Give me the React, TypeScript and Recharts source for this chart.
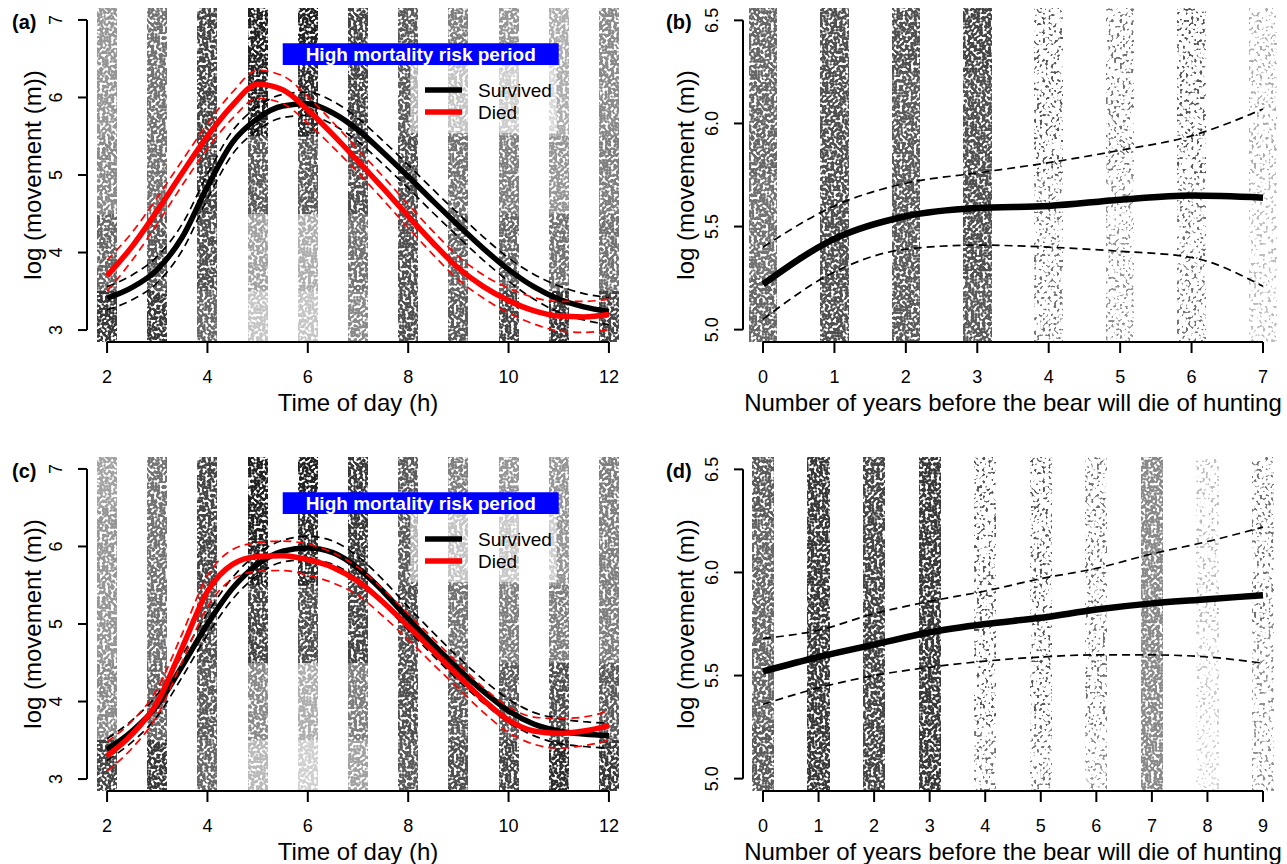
import React from 'react';
import { ComposedChart, Line, XAxis, YAxis, ReferenceArea, ReferenceLine } from 'recharts';

const FONT = '"Liberation Sans", Arial, Helvetica, sans-serif';

// ---------- Panels (a) and (c): time of day ----------
const hours = [2, 2.5, 3, 3.5, 4, 4.5, 5, 5.5, 6, 6.5, 7, 7.5, 8, 8.5, 9, 9.5, 10, 10.5, 11, 11.5, 12];
const hourTicks = [2, 4, 6, 8, 10, 12];
const hourColumns = [2, 3, 4, 5, 6, 7, 8, 9, 10, 11, 12];
const timeYTicks = [3, 4, 5, 6, 7];
const timeDensityLevels = [3, 4, 5, 6, 7];

const survivedA = [3.41, 3.55, 3.78, 4.2, 4.85, 5.42, 5.73, 5.89, 5.92, 5.8, 5.58, 5.29, 4.98, 4.66, 4.35, 4.05, 3.78, 3.56, 3.4, 3.3, 3.24];
const survivedAUpper = [3.56, 3.71, 3.95, 4.37, 5.01, 5.57, 5.88, 6.04, 6.07, 5.95, 5.73, 5.44, 5.13, 4.81, 4.5, 4.2, 3.93, 3.72, 3.57, 3.47, 3.42];
const survivedALower = [3.26, 3.39, 3.61, 4.03, 4.69, 5.27, 5.58, 5.74, 5.77, 5.65, 5.43, 5.14, 4.83, 4.51, 4.2, 3.9, 3.63, 3.4, 3.23, 3.13, 3.07];
const diedA = [3.7, 4.08, 4.54, 5.03, 5.5, 5.9, 6.17, 6.1, 5.84, 5.52, 5.18, 4.83, 4.47, 4.12, 3.8, 3.56, 3.38, 3.25, 3.18, 3.17, 3.2];
const diedAUpper = [3.9, 4.26, 4.71, 5.19, 5.66, 6.07, 6.35, 6.28, 6.01, 5.68, 5.33, 4.98, 4.62, 4.27, 3.95, 3.71, 3.54, 3.42, 3.37, 3.37, 3.4];
const diedALower = [3.5, 3.9, 4.37, 4.87, 5.34, 5.73, 5.99, 5.92, 5.67, 5.36, 5.03, 4.68, 4.32, 3.97, 3.65, 3.41, 3.22, 3.08, 2.99, 2.97, 3.0];

const survivedC = [3.38, 3.62, 3.95, 4.46, 5.0, 5.46, 5.77, 5.94, 5.98, 5.92, 5.72, 5.42, 5.07, 4.74, 4.42, 4.13, 3.88, 3.71, 3.62, 3.58, 3.56];
const survivedCUpper = [3.52, 3.76, 4.09, 4.6, 5.14, 5.6, 5.91, 6.08, 6.13, 6.07, 5.87, 5.57, 5.22, 4.89, 4.57, 4.28, 4.03, 3.86, 3.78, 3.74, 3.72];
const survivedCLower = [3.24, 3.48, 3.81, 4.32, 4.86, 5.32, 5.63, 5.8, 5.83, 5.77, 5.57, 5.27, 4.92, 4.59, 4.27, 3.98, 3.73, 3.56, 3.46, 3.42, 3.4];
const diedC = [3.3, 3.58, 3.99, 4.7, 5.42, 5.77, 5.87, 5.88, 5.83, 5.73, 5.55, 5.28, 4.97, 4.65, 4.33, 4.02, 3.76, 3.62, 3.59, 3.62, 3.69];
const diedCUpper = [3.48, 3.75, 4.16, 4.88, 5.62, 5.96, 6.05, 6.07, 6.03, 5.92, 5.73, 5.45, 5.13, 4.81, 4.49, 4.18, 3.93, 3.8, 3.78, 3.8, 3.88];
const diedCLower = [3.1, 3.4, 3.82, 4.52, 5.22, 5.58, 5.68, 5.69, 5.63, 5.53, 5.37, 5.1, 4.8, 4.48, 4.17, 3.86, 3.6, 3.45, 3.4, 3.43, 3.5];

// point density per column (bottom -> top at the density levels)
const densityA = [
  [0.85, 0.65, 0.5, 0.45, 0.45],
  [0.85, 0.7, 0.6, 0.6, 0.6],
  [0.65, 0.75, 0.8, 0.8, 0.8],
  [0.25, 0.4, 0.7, 0.95, 0.95],
  [0.25, 0.35, 0.7, 0.9, 0.95],
  [0.5, 0.6, 0.75, 0.8, 0.8],
  [0.75, 0.75, 0.75, 0.7, 0.7],
  [0.7, 0.65, 0.6, 0.55, 0.55],
  [0.8, 0.65, 0.55, 0.45, 0.45],
  [0.85, 0.6, 0.45, 0.35, 0.35],
  [0.8, 0.6, 0.55, 0.5, 0.5],
];
const densityC = [
  [0.8, 0.5, 0.45, 0.45, 0.4],
  [0.85, 0.65, 0.6, 0.6, 0.6],
  [0.65, 0.7, 0.75, 0.8, 0.8],
  [0.3, 0.5, 0.8, 0.95, 0.95],
  [0.2, 0.35, 0.75, 0.9, 0.95],
  [0.4, 0.55, 0.8, 0.85, 0.85],
  [0.7, 0.75, 0.75, 0.7, 0.7],
  [0.75, 0.7, 0.6, 0.55, 0.55],
  [0.8, 0.7, 0.55, 0.5, 0.45],
  [0.9, 0.75, 0.55, 0.45, 0.45],
  [0.85, 0.7, 0.55, 0.55, 0.55],
];

// ---------- Panels (b) and (d): years before death ----------
const yearsB = [0, 1, 2, 3, 4, 5, 6, 7];
const yearsD = [0, 1, 2, 3, 4, 5, 6, 7, 8, 9];
const yearYTicks = [5.0, 5.5, 6.0, 6.5];
const yearDensityLevels = [5.0, 5.5, 6.0, 6.5];

const fitB = [5.22, 5.44, 5.55, 5.59, 5.6, 5.63, 5.65, 5.64];
const fitBUpper = [5.4, 5.6, 5.71, 5.76, 5.81, 5.87, 5.94, 6.07];
const fitBLower = [5.05, 5.28, 5.39, 5.41, 5.4, 5.38, 5.35, 5.21];

const fitD = [5.52, 5.59, 5.65, 5.71, 5.75, 5.78, 5.82, 5.85, 5.87, 5.89];
const fitDUpper = [5.68, 5.72, 5.8, 5.86, 5.91, 5.97, 6.02, 6.09, 6.15, 6.22];
const fitDLower = [5.36, 5.44, 5.5, 5.54, 5.57, 5.59, 5.6, 5.6, 5.59, 5.56];

const densityB = [
  [0.65, 0.6, 0.65, 0.65],
  [0.75, 0.75, 0.75, 0.75],
  [0.7, 0.7, 0.7, 0.75],
  [0.7, 0.75, 0.75, 0.8],
  [0.25, 0.25, 0.3, 0.3],
  [0.2, 0.2, 0.25, 0.25],
  [0.25, 0.25, 0.3, 0.3],
  [0.12, 0.12, 0.15, 0.15],
];
const densityD = [
  [0.7, 0.65, 0.65, 0.7],
  [0.85, 0.85, 0.85, 0.85],
  [0.8, 0.8, 0.8, 0.8],
  [0.85, 0.85, 0.85, 0.85],
  [0.25, 0.3, 0.3, 0.3],
  [0.25, 0.3, 0.3, 0.3],
  [0.2, 0.25, 0.25, 0.25],
  [0.5, 0.5, 0.5, 0.5],
  [0.08, 0.1, 0.12, 0.12],
  [0.2, 0.2, 0.25, 0.25],
];

const legendItems = [
  { name: 'Survived', color: '#000000' },
  { name: 'Died', color: '#ff0000' },
];
const boxText = 'High mortality risk period';
const timeTitle = 'Time of day (h)';
const yearTitle = 'Number of years before the bear will die of hunting';
const yTitle = 'log (movement (m))';
const panelLabels = ['(a)', '(b)', '(c)', '(d)'];

const timeDomainX: [number, number] = [1.6, 12.4];
const timeDomainY: [number, number] = [2.846, 7.154];
const yearDomainY: [number, number] = [4.94, 6.56];

const timeRows = (s: number[], su: number[], sl: number[], d: number[], du: number[], dl: number[]) =>
  hours.map((x, i) => ({ x, sur: s[i], surU: su[i], surL: sl[i], died: d[i], diedU: du[i], diedL: dl[i] }));
const yearRows = (xs: number[], f: number[], fu: number[], fl: number[]) =>
  xs.map((x, i) => ({ x, fit: f[i], hi: fu[i], lo: fl[i] }));

const timeSeries = [
  { key: 'surL', color: '#000', dashed: true, width: 1.7 },
  { key: 'surU', color: '#000', dashed: true, width: 1.7 },
  { key: 'sur', color: '#000', dashed: false, width: 5.5 },
  { key: 'diedL', color: '#ff0000', dashed: true, width: 1.7 },
  { key: 'diedU', color: '#ff0000', dashed: true, width: 1.7 },
  { key: 'died', color: '#ff0000', dashed: false, width: 5.5 },
];
const yearSeries = [
  { key: 'lo', color: '#000', dashed: true, width: 1.7 },
  { key: 'hi', color: '#000', dashed: true, width: 1.7 },
  { key: 'fit', color: '#000', dashed: false, width: 6.5 },
];

const meanOf = (a: number[]) => a.reduce((s, v) => s + v, 0) / a.length;

// vertical bin edges from the density levels (midpoints), clipped to the domain
const binEdges = (levels: number[], domain: [number, number]) => {
  const e = [domain[0]];
  for (let j = 0; j < levels.length - 1; j++) e.push((levels[j] + levels[j + 1]) / 2);
  e.push(domain[1]);
  return e;
};

const XTick = (props: any) => {
  const { x, y, payload } = props;
  return (
    <text x={x} y={y + 24} textAnchor="middle" dominantBaseline="central" fontSize={18} fontFamily={FONT} fill="#000">
      {payload.value}
    </text>
  );
};
const makeYTick = (fmt: (v: number) => string) => (props: any) => {
  const { x, y, payload } = props;
  const cx = x - 22;
  return (
    <text x={cx} y={y} transform={`rotate(-90 ${cx} ${y})`} textAnchor="middle" dominantBaseline="central" fontSize={18} fontFamily={FONT} fill="#000">
      {fmt(payload.value)}
    </text>
  );
};

function Panel(props: any) {
  const { data, xDomain, xTicks, yDomain, yTicks, yFmt, columns, densities, levels, series, width, height, yAxisWidth, rightMargin, timeDecor } = props;
  const xAxisHeight = height - 8 - 334;
  const edges = binEdges(levels, yDomain);
  return (
    <ComposedChart width={width} height={height} data={data} margin={{ top: 8, right: rightMargin, left: 0, bottom: 0 }}>
      <XAxis
        dataKey="x"
        type="number"
        domain={xDomain}
        ticks={xTicks}
        interval={0}
        allowDataOverflow
        axisLine={false}
        tickSize={11}
        tickMargin={0}
        tickLine={{ stroke: '#000', strokeWidth: 2 }}
        tick={XTick}
        height={xAxisHeight}
      />
      <YAxis
        type="number"
        domain={yDomain}
        ticks={yTicks}
        interval={0}
        allowDataOverflow
        axisLine={false}
        tickSize={9}
        tickMargin={0}
        tickLine={{ stroke: '#000', strokeWidth: 2 }}
        tick={makeYTick(yFmt)}
        width={yAxisWidth}
      />
      {columns.map((c: number, i: number) => {
        const sparse = meanOf(densities[i]) < 0.35;
        const k = sparse ? 2.4 : 1;
        return densities[i].map((d: number, j: number) => (
          <ReferenceArea
            key={`col${i}-${j}`}
            x1={c - 0.2}
            x2={c + 0.2}
            y1={edges[j]}
            y2={edges[j + 1]}
            ifOverflow="visible"
            shape={(p: any) => {
              const x0 = Math.round(p.x);
              const x1 = Math.round(p.x + p.width);
              const y0 = Math.round(p.y);
              const y1 = Math.round(p.y + p.height);
              return (
                <rect
                  x={x0}
                  y={y0}
                  width={x1 - x0}
                  height={y1 - y0}
                  fill="#161616"
                  fillOpacity={Math.min(1, d * k)}
                  filter={sparse ? 'url(#spk-sparse)' : 'url(#spk-dense)'}
                />
              );
            }}
          />
        ));
      })}
      {timeDecor && (
        <ReferenceArea x1={8.04} x2={10.96} y1={5.54} y2={6.42} fill="#ffffff" fillOpacity={0.55} stroke="none" ifOverflow="visible" />
      )}
      {timeDecor && (
        <ReferenceArea
          x1={5.5}
          x2={11}
          y1={6.42}
          y2={6.7}
          fill="#0000ff"
          fillOpacity={1}
          stroke="none"
          ifOverflow="visible"
          label={{ value: boxText, position: 'center', fill: '#ffffff', fontSize: 19, fontWeight: 'bold', fontFamily: FONT }}
        />
      )}
      <ReferenceLine
        segment={[{ x: xDomain[0], y: yTicks[0] }, { x: xDomain[0], y: yTicks[yTicks.length - 1] }]}
        stroke="#000"
        strokeWidth={2}
        ifOverflow="visible"
      />
      <ReferenceLine
        segment={[{ x: xTicks[0], y: yDomain[0] }, { x: xTicks[xTicks.length - 1], y: yDomain[0] }]}
        stroke="#000"
        strokeWidth={2}
        ifOverflow="visible"
      />
      {series.map((s: any) => (
        <Line
          key={s.key}
          dataKey={s.key}
          type="monotone"
          stroke={s.color}
          strokeWidth={s.width}
          strokeDasharray={s.dashed ? '8 5' : undefined}
          dot={false}
          activeDot={false}
          isAnimationActive={false}
        />
      ))}
    </ComposedChart>
  );
}

function Legend2({ dy }: { dy: number }) {
  return (
    <g>
      {legendItems.map((it, i) => (
        <g key={it.name}>
          <line x1={425} x2={462} y1={90 + dy + i * 22} y2={90 + dy + i * 22} stroke={it.color} strokeWidth={5.5} />
          <text x={478} y={90 + dy + i * 22} dominantBaseline="central" fontSize={19} fontFamily={FONT} fill="#000">
            {it.name}
          </text>
        </g>
      ))}
    </g>
  );
}

export default function App() {
  const fmtInt = (v: number) => String(v);
  const fmt1 = (v: number) => v.toFixed(1);
  const timeA = timeRows(survivedA, survivedAUpper, survivedALower, diedA, diedAUpper, diedALower);
  const timeC = timeRows(survivedC, survivedCUpper, survivedCLower, diedC, diedCUpper, diedCLower);
  const yB = yearRows(yearsB, fitB, fitBUpper, fitBLower);
  const yD = yearRows(yearsD, fitD, fitDUpper, fitDLower);
  const labelPos = [[12, 22], [666, 22], [12, 471], [666, 471]];

  return (
    <div style={{ position: 'absolute', left: 0, top: 0, width: 1287, height: 864, background: '#fff', overflow: 'hidden' }}>
      <svg width={0} height={0} style={{ position: 'absolute' }}>
        <defs>
          <filter id="spk-dense" x="0" y="0" width="1" height="1" colorInterpolationFilters="sRGB">
            <feTurbulence type="fractalNoise" baseFrequency="0.35" numOctaves={1} seed={4} result="n" />
            <feColorMatrix in="n" type="matrix" values="0 0 0 0 0  0 0 0 0 0  0 0 0 0 0  7 0 0 0 -2.6" result="m" />
            <feComposite in="SourceGraphic" in2="m" operator="in" />
          </filter>
          <filter id="spk-sparse" x="0" y="0" width="1" height="1" colorInterpolationFilters="sRGB">
            <feTurbulence type="fractalNoise" baseFrequency="0.35" numOctaves={1} seed={9} result="n" />
            <feColorMatrix in="n" type="matrix" values="0 0 0 0 0  0 0 0 0 0  0 0 0 0 0  10 0 0 0 -5.6" result="m" />
            <feComposite in="SourceGraphic" in2="m" operator="in" />
          </filter>
        </defs>
      </svg>

      <div style={{ position: 'absolute', left: 0, top: 0 }}>
        <Panel data={timeA} xDomain={timeDomainX} xTicks={hourTicks} yDomain={timeDomainY} yTicks={timeYTicks} yFmt={fmtInt}
          columns={hourColumns} densities={densityA} levels={timeDensityLevels} series={timeSeries} width={640} height={430} yAxisWidth={87} rightMargin={11} timeDecor />
      </div>
      <div style={{ position: 'absolute', left: 640, top: 0 }}>
        <Panel data={yB} xDomain={[-0.28, 7.28]} xTicks={yearsB} yDomain={yearDomainY} yTicks={yearYTicks} yFmt={fmt1}
          columns={yearsB} densities={densityB} levels={yearDensityLevels} series={yearSeries} width={647} height={430} yAxisWidth={103} rightMargin={4} />
      </div>
      <div style={{ position: 'absolute', left: 0, top: 449 }}>
        <Panel data={timeC} xDomain={timeDomainX} xTicks={hourTicks} yDomain={timeDomainY} yTicks={timeYTicks} yFmt={fmtInt}
          columns={hourColumns} densities={densityC} levels={timeDensityLevels} series={timeSeries} width={640} height={415} yAxisWidth={87} rightMargin={11} timeDecor />
      </div>
      <div style={{ position: 'absolute', left: 640, top: 449 }}>
        <Panel data={yD} xDomain={[-0.36, 9.36]} xTicks={yearsD} yDomain={yearDomainY} yTicks={yearYTicks} yFmt={fmt1}
          columns={yearsD} densities={densityD} levels={yearDensityLevels} series={yearSeries} width={647} height={415} yAxisWidth={103} rightMargin={4} />
      </div>

      <svg width={1287} height={864} style={{ position: 'absolute', left: 0, top: 0, pointerEvents: 'none' }}>
        {panelLabels.map((t, i) => (
          <text key={t} x={labelPos[i][0]} y={labelPos[i][1]} dominantBaseline="central" fontSize={20} fontWeight="bold" fontFamily={FONT} fill="#000">
            {t}
          </text>
        ))}
        {[[32, 175], [685, 175], [32, 624], [685, 624]].map(([x, y], i) => (
          <text key={`yt${i}`} x={x} y={y} transform={`rotate(-90 ${x} ${y})`} textAnchor="middle" dominantBaseline="central" fontSize={24} fontFamily={FONT} fill="#000">
            {yTitle}
          </text>
        ))}
        <text x={358} y={402} textAnchor="middle" dominantBaseline="central" fontSize={24} fontFamily={FONT}>{timeTitle}</text>
        <text x={358} y={851} textAnchor="middle" dominantBaseline="central" fontSize={24} fontFamily={FONT}>{timeTitle}</text>
        <text x={1013} y={402} textAnchor="middle" dominantBaseline="central" fontSize={24} fontFamily={FONT}>{yearTitle}</text>
        <text x={1013} y={851} textAnchor="middle" dominantBaseline="central" fontSize={24} fontFamily={FONT}>{yearTitle}</text>
        <Legend2 dy={0} />
        <Legend2 dy={449} />
      </svg>
    </div>
  );
}
